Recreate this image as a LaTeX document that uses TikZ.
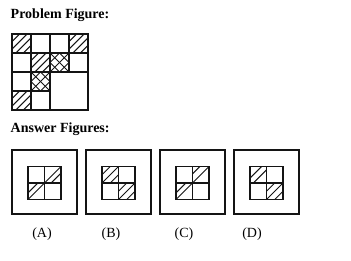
\documentclass[tikz,border=0pt]{standalone}
\usepackage{fontspec}
\setmainfont{Liberation Serif}
\definecolor{Ink}{RGB}{20, 20, 20}
\usetikzlibrary{positioning}

% one cell of side #3 at top-left (#1,#2), "/" hatching at offsets #4
\newcommand{\hatchcell}[4]{%
  \foreach \o in {#4} {
    \pgfmathsetmacro{\c}{\o*#3}
    \begin{scope}
      \clip (#1,#2) rectangle ++(#3,#3);
      \draw[hatch] (#1+\c-#3,#2+#3) -- ++(#3,-#3);
    \end{scope}
  }}
% same with "\" hatching
\newcommand{\backcell}[4]{%
  \foreach \o in {#4} {
    \pgfmathsetmacro{\c}{\o*#3}
    \begin{scope}
      \clip (#1,#2) rectangle ++(#3,#3);
      \draw[hatch] (#1+\c-#3,#2) -- ++(#3,#3);
    \end{scope}
  }}

\begin{document}
\begin{tikzpicture}[x=1pt, y=-1pt, line join=miter,
    frame/.style={draw=Ink, line width=1.1pt},
    hatch/.style={draw=Ink, line width=1pt},
    heading/.style={anchor=base west, font=\fontsize{14}{16}\selectfont\bfseries, inner sep=0pt},
    tag/.style={font=\fontsize{14}{16}\selectfont, inner sep=0pt}]
    \useasboundingbox (0,0) rectangle (351,261);

    % Headings
    \node[heading] (problem) at (10.5,18.5) {Problem Figure:};
    \node[heading] (answer) at (10.5,133) {Answer Figures:};

    % Problem figure: 4x4 grid, lower right 2x2 joined
    \def\s{19}
    \hatchcell{12}{34}{\s}{0.4,0.8,1.2,1.6}
    \hatchcell{69}{34}{\s}{0.4,0.8,1.2,1.6}
    \hatchcell{31}{53}{\s}{0.4,0.8,1.2,1.6}
    \hatchcell{12}{91}{\s}{0.4,0.8,1.2,1.6}
    \hatchcell{50}{53}{\s}{0.5,1.0,1.5}
    \backcell{50}{53}{\s}{0.5,1.0,1.5}
    \hatchcell{31}{72}{\s}{0.5,1.0,1.5}
    \backcell{31}{72}{\s}{0.5,1.0,1.5}
    \draw[frame] (12,34) rectangle (88,110);
    \draw[frame] (31,34) -- (31,110);
    \draw[frame] (50,34) -- (50,110);
    \draw[frame] (69,34) -- (69,72);
    \draw[frame] (12,53) -- (88,53);
    \draw[frame] (12,72) -- (88,72);
    \draw[frame] (12,91) -- (50,91);

    % Answer figures
    \def\t{16.5}
    \foreach \k in {0,1,2,3} {
        \pgfmathsetmacro{\ox}{12+74*\k}
        \draw[frame] (\ox,150) rectangle ++(65,64);
    }
    % (A)
    \hatchcell{44.5}{166.5}{\t}{1.0,1.4}
    \hatchcell{28}{183}{\t}{0.6,1.0}
    % (B)
    \hatchcell{102}{166.5}{\t}{0.5,1.0,1.5}
    \hatchcell{118.5}{183}{\t}{0.5,1.0,1.5}
    % (C)
    \hatchcell{192.5}{166.5}{\t}{0.45,1.0}
    \hatchcell{176}{183}{\t}{0.6,1.0}
    % (D)
    \hatchcell{250}{166.5}{\t}{0.7,1.2}
    \hatchcell{266.5}{183}{\t}{0.5,1.0,1.5}
    \foreach \ix in {28, 102, 176, 250} {
        \draw[frame] (\ix,166.5) rectangle ++(33,33);
        \draw[frame] (\ix+16.5,166.5) -- ++(0,33);
        \draw[frame] (\ix,183) -- ++(33,0);
    }

    % Labels
    \node[tag] (optA) at (42,234.5) {(A)};
    \node[tag] (optB) at (111,234.5) {(B)};
    \node[tag] (optC) at (184,234.5) {(C)};
    \node[tag] (optD) at (252,234.5) {(D)};
\end{tikzpicture}
\end{document}
